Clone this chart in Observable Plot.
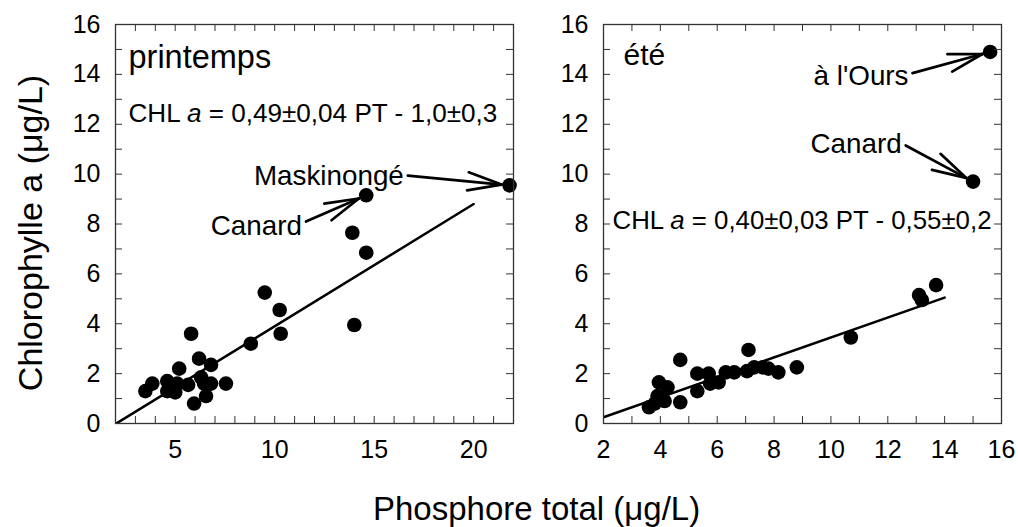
<!DOCTYPE html>
<html>
<head>
<meta charset="utf-8">
<script src="https://cdn.jsdelivr.net/npm/d3@7"></script>
<script src="https://cdn.jsdelivr.net/npm/@observablehq/plot@0.6"></script>
<style>
  html, body { margin: 0; padding: 0; background: #fff; }
  #chart { position: relative; width: 1018px; height: 527px; overflow: hidden;
           font-family: "Liberation Sans", Arial, Helvetica, sans-serif; color: #000; background: #fff; }
  #chart svg { position: absolute; top: 0; }
  .ytitle { position: absolute; left: -170px; top: 216px; width: 400px; height: 34px; text-align: center;
            transform: rotate(-90deg); transform-origin: 50% 50%;
            font-size: 34px; line-height: 34px; white-space: nowrap; }
  .xtitle { position: absolute; left: 373px; top: 492px; font-size: 33px; line-height: 34px; white-space: nowrap; }
</style>
</head>
<body>
<div id="chart">
  <div class="ytitle">Chlorophylle a (μg/L)</div>
  <div class="xtitle">Phosphore total (μg/L)</div>
</div>
<script>
// Total phosphorus (PT, µg/L) and chlorophyll a (CHL, µg/L) per lake
const springPT  = [3.5, 3.85, 4.6, 4.6, 5.0, 5.2, 5.1, 5.65, 5.8, 5.95, 6.2, 6.3, 6.45, 6.55, 6.8, 6.8, 7.55, 8.8, 9.5, 10.25, 10.3, 13.9, 14.0, 14.6, 14.6, 21.8];
const springCHL = [1.3, 1.6, 1.7, 1.3, 1.25, 2.2, 1.6, 1.55, 3.6, 0.8, 2.6, 1.85, 1.6, 1.1, 2.35, 1.6, 1.6, 3.2, 5.25, 4.55, 3.6, 7.65, 3.95, 6.85, 9.15, 9.55];

const summerPT  = [3.6, 3.8, 3.95, 3.9, 4.15, 4.25, 4.7, 4.7, 5.3, 5.3, 5.7, 5.75, 6.05, 6.3, 6.6, 7.05, 7.1, 7.3, 7.6, 7.8, 8.15, 8.8, 10.7, 13.1, 13.2, 13.7, 15.0, 15.6];
const summerCHL = [0.65, 0.8, 1.65, 1.1, 0.9, 1.45, 2.55, 0.85, 2.0, 1.3, 2.0, 1.6, 1.65, 2.05, 2.05, 2.1, 2.95, 2.25, 2.25, 2.2, 2.05, 2.25, 3.45, 5.15, 4.95, 5.55, 9.7, 14.9];

// Named lakes (index into the season arrays)
const springLakes = [{lake: "Maskinongé", index: 25}, {lake: "Canard", index: 24}];
const summerLakes = [{lake: "Canard", index: 26}, {lake: "à l'Ours", index: 27}];

// Regressions CHL a = slope·PT + intercept (decimals: slope, intercept, intercept error)
const springFit = {slope: 0.49, slopeErr: 0.04, intercept: -1.0, interceptErr: 0.3, digits: [2, 1, 1], from: 2, to: 20};
const summerFit = {slope: 0.40, slopeErr: 0.03, intercept: -0.55, interceptErr: 0.2, digits: [2, 2, 1], from: 2, to: 14};

// Axis tick labels
const springXTicks = [5, 10, 15, 20];
const summerXTicks = [2, 4, 6, 8, 10, 12, 14, 16];
const yTicks = [0, 2, 4, 6, 8, 10, 12, 14, 16];

const FONT = '"Liberation Sans", Arial, Helvetica, sans-serif';
const comma = (v, d) => v.toFixed(d).replace(".", ",");

function equation(f) {
  const [ds, di, die] = f.digits;
  return `CHL a = ${comma(f.slope, ds)}±${comma(f.slopeErr, ds)} PT - ${comma(-f.intercept, di)}±${comma(f.interceptErr, die)}`;
}

function scaleFns(s) {
  const [d0, d1] = s.domain, [r0, r1] = s.range;
  const f = typeof s.apply === "function" ? (v) => s.apply(v) : (v) => r0 + (v - d0) / (d1 - d0) * (r1 - r0);
  const g = typeof s.invert === "function" ? (p) => s.invert(p) : (p) => d0 + (p - r0) / (r1 - r0) * (d1 - d0);
  return [f, g];
}

// Open arrowhead: shaft from the label to the dot, two long wings at the tip
function arrowSegments(note, point, fx, ix, fy, iy) {
  const WING = 35, HALF = 15 * Math.PI / 180, GAP = 8;
  const x0 = fx(note.tail[0]), y0 = fy(note.tail[1]);
  const xp = fx(point.pt), yp = fy(point.chl);
  const a = Math.atan2(yp - y0, xp - x0);
  const tx = xp - GAP * Math.cos(a), ty = yp - GAP * Math.sin(a);
  const segs = [[x0, y0, tx, ty]];
  for (const s of [-1, 1]) {
    const b = a + Math.PI + s * HALF;
    segs.push([tx + WING * Math.cos(b), ty + WING * Math.sin(b), tx, ty]);
  }
  return segs.map(([a1, b1, a2, b2]) => ({x1: ix(a1), y1: iy(b1), x2: ix(a2), y2: iy(b2)}));
}

function panel(cfg) {
  const height = 470, marginTop = 24, marginBottom = 47;
  const base = {
    width: cfg.width, height, marginTop, marginBottom,
    marginLeft: cfg.marginLeft, marginRight: cfg.marginRight,
    x: {domain: cfg.xDomain}, y: {domain: [0, 16]},
    style: {fontFamily: FONT, fontSize: "25px", color: "black", background: "transparent", overflow: "visible"}
  };
  const innerW = cfg.width - cfg.marginLeft - cfg.marginRight;
  const innerH = height - marginTop - marginBottom;
  const probe = Plot.plot({...base, marks: [Plot.frame()]});
  const [fx, ix] = scaleFns(probe.scale("x"));
  const [fy, iy] = scaleFns(probe.scale("y"));

  const points = cfg.pt.map((v, i) => ({pt: v, chl: cfg.chl[i]}));
  const fitLine = [cfg.fit.from, cfg.fit.to].map((x) => ({pt: x, chl: cfg.fit.slope * x + cfg.fit.intercept}));
  const segs = cfg.notes.flatMap((n) => arrowSegments(n, points[n.index], fx, ix, fy, iy));
  const xMinor = d3.range(cfg.xDomain[0], cfg.xDomain[1] + 0.5, 1);
  const yMinor = d3.range(0, 16.5, 1);
  const tickStroke = "#333";

  const svg = Plot.plot({
    ...base,
    marks: [
      Plot.line(fitLine, {x: "pt", y: "chl", stroke: "black", strokeWidth: 2.5, clip: true}),
      Plot.dot(points, {x: "pt", y: "chl", r: 7.3, fill: "black", stroke: "none"}),
      Plot.link(segs, {x1: "x1", y1: "y1", x2: "x2", y2: "y2", stroke: "black", strokeWidth: 2.7, strokeLinecap: "round"}),
      ...cfg.notes.map((n) => Plot.text([n], {
        x: (d) => d.tail[0], y: (d) => d.tail[1], text: (d) => d.lake,
        textAnchor: "end", lineAnchor: "middle", dx: -4, dy: n.dy, fontSize: 27.8, fill: "black"
      })),
      Plot.text([cfg.title], {frameAnchor: "top-left", text: (d) => d, textAnchor: "start", lineAnchor: "middle",
        dx: cfg.titleDx, dy: cfg.titleDy, fontSize: cfg.titleSize, fill: "black"}),
      Plot.text([equation(cfg.fit)], {frameAnchor: "top-left", text: (d) => d, textAnchor: "start", lineAnchor: "middle",
        dx: cfg.eqDx, dy: cfg.eqDy, fontSize: cfg.eqSize, fill: "black"}),
      Plot.tickX(xMinor, {x: (d) => d, insetTop: innerH - 7, stroke: tickStroke}),
      Plot.tickX(xMinor, {x: (d) => d, insetBottom: innerH - 7, stroke: tickStroke}),
      Plot.tickY(yMinor, {y: (d) => d, insetRight: innerW - 7, stroke: tickStroke}),
      Plot.tickY(yMinor, {y: (d) => d, insetLeft: innerW - 7, stroke: tickStroke}),
      Plot.frame({stroke: tickStroke, strokeWidth: 1.3}),
      Plot.axisX({ticks: cfg.xTicks, tickSize: 0, tickPadding: 17, label: null, fill: "black"}),
      Plot.axisY({ticks: yTicks, tickSize: 0, tickPadding: 15, label: null, fill: "black"})
    ]
  });

  // italic "a" in the regression equation
  for (const t of svg.querySelectorAll("text")) {
    const s = t.textContent;
    if (s.startsWith("CHL a =")) {
      t.textContent = "";
      for (const [part, italic] of [["CHL ", false], ["a", true], [s.slice(5), false]]) {
        const span = document.createElementNS("http://www.w3.org/2000/svg", "tspan");
        span.textContent = part;
        if (italic) span.setAttribute("font-style", "italic");
        t.appendChild(span);
      }
    }
  }
  svg.style.left = cfg.left + "px";
  return svg;
}

const chart = document.getElementById("chart");

chart.appendChild(panel({
  left: 0, width: 530, marginLeft: 115, marginRight: 17, xDomain: [2, 22], xTicks: springXTicks,
  pt: springPT, chl: springCHL, fit: springFit,
  title: "printemps", titleSize: 32.5, titleDx: 13, titleDy: 33,
  eqDx: 13, eqDy: 89, eqSize: 26.1,
  notes: [
    {...springLakes[0], tail: [16.69, 9.94], dy: 0},
    {...springLakes[1], tail: [11.57, 8.10], dy: 5}
  ]
}));

chart.appendChild(panel({
  left: 530, width: 488, marginLeft: 73, marginRight: 17, xDomain: [2, 16], xTicks: summerXTicks,
  pt: summerPT, chl: summerCHL, fit: summerFit,
  title: "été", titleSize: 30, titleDx: 20, titleDy: 31,
  eqDx: 9, eqDy: 196, eqSize: 25.8,
  notes: [
    {...summerLakes[0], tail: [12.63, 11.15], dy: -1},
    {...summerLakes[1], tail: [12.87, 14.05], dy: 3}
  ]
}));
</script>
</body>
</html>
